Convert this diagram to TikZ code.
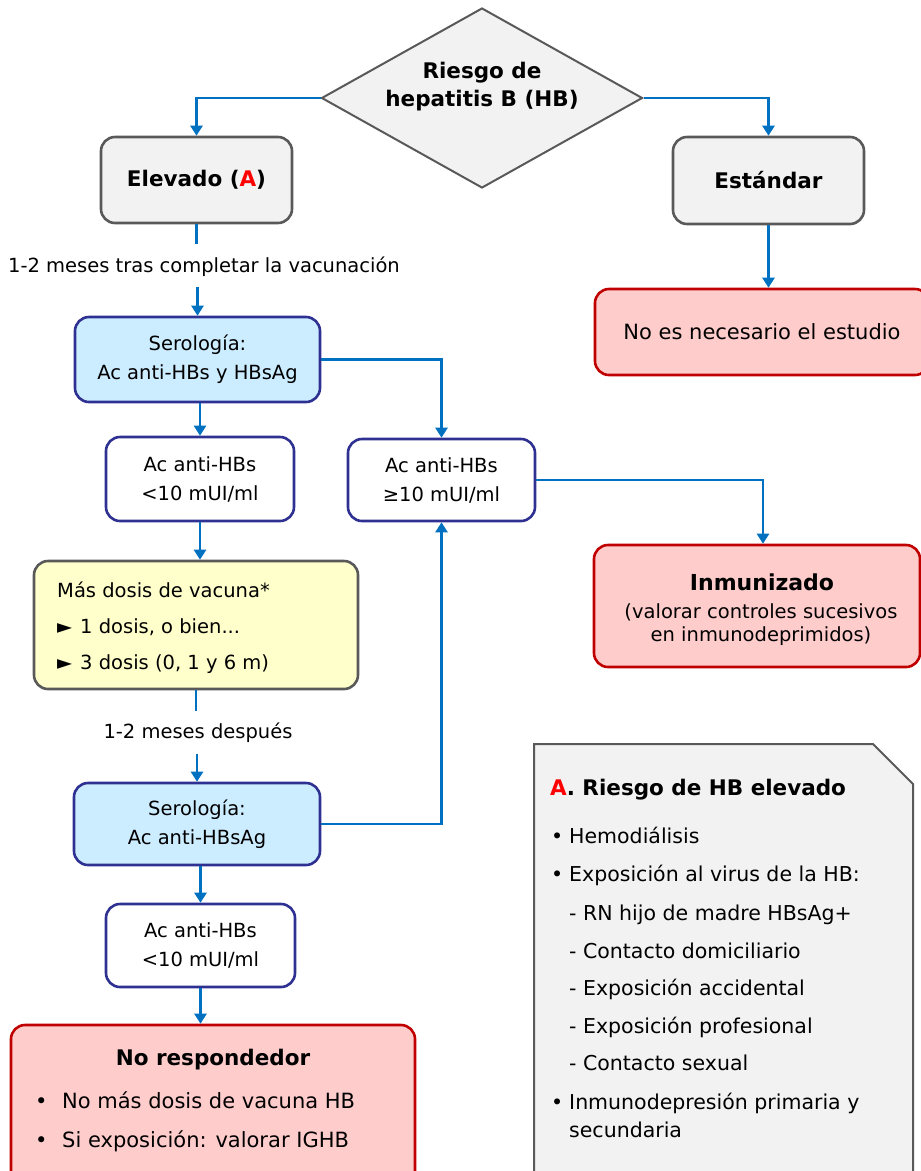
\documentclass[tikz,border=0pt]{standalone}
\usepackage{fontspec}
\setmainfont{DejaVu Sans}
\usetikzlibrary{arrows.meta,shapes.geometric}
\definecolor{connblue}{HTML}{0070C0}
\definecolor{grayfill}{HTML}{F2F2F2}
\definecolor{grayline}{HTML}{595959}
\definecolor{navyline}{HTML}{2E3192}
\definecolor{bluefill}{HTML}{CCECFF}
\definecolor{redline}{HTML}{C00000}
\definecolor{redfill}{HTML}{FFCCCC}
\definecolor{yellowfill}{HTML}{FFFFCC}
\definecolor{redA}{HTML}{FF0000}
\newcommand{\myfs}[2]{\fontsize{#1}{#2}\selectfont}
\begin{document}
\begin{tikzpicture}[x=1pt,y=-1pt,
  box/.style={rounded corners=14pt, line width=2.6pt, inner sep=0pt, align=center, font=\myfs{19.5}{29}},
  graybox/.style={box, draw=grayline, fill=grayfill, font=\bfseries\myfs{21.5}{26}},
  bluebox/.style={box, draw=navyline, fill=bluefill},
  whitebox/.style={box, draw=navyline, fill=white},
  redbox/.style={box, draw=redline, fill=redfill},
  yellowbox/.style={box, draw=grayline, fill=yellowfill},
  txt/.style={inner sep=0pt, align=center, font=\myfs{19.5}{24}},
  btxt/.style={inner sep=0pt, align=center, font=\bfseries\myfs{21.5}{28}},
  legl/.style={anchor=base west, inner sep=0pt, font=\myfs{20.5}{24}},
  conn/.style={draw=connblue, line width=2.8pt, -{Triangle[width=12pt,length=10pt]}},
  plain/.style={draw=connblue, line width=2.8pt}
]
\path[use as bounding box] (0,0) rectangle (921,1171);
\clip (0,0) rectangle (921,1171);

% decision
\node[diamond, draw=grayline, fill=grayfill, line width=2pt, minimum width=321, minimum height=180, inner sep=0pt] (risk) at (482,98) {};
\node[btxt] (risktxt) at (482,87) {Riesgo de\\hepatitis B (HB)};

\node[graybox, minimum width=191, minimum height=86] (elev) at (196.5,180) {Elevado (\textcolor{redA}{A})};
\node[graybox, minimum width=191, minimum height=87] (std) at (768.5,180.5) {Estándar};
\node[redbox, font=\myfs{21}{26}, minimum width=334, minimum height=86] (nne) at (762,332) {No es necesario el estudio};

\node[txt] (lbl1) at (204,267) {1-2 meses tras completar la vacunación};
\node[bluebox, minimum width=245, minimum height=85] (sero1) at (197.5,359.5) {Serología:\\Ac anti-HBs y HBsAg};
\node[whitebox, minimum width=188, minimum height=84] (lt1) at (200,479) {Ac anti-HBs\\<10 mUI/ml};
\node[whitebox, minimum width=187, minimum height=82] (ge) at (441.5,480) {Ac anti-HBs\\≥10 mUI/ml};

\node[redbox, minimum width=326, minimum height=122] (inm) at (757,606) {};
\node[btxt, font=\bfseries\myfs{22}{26}] (inmT) at (762,582) {Inmunizado};
\node[txt] (inmL1) at (761,612) {(valorar controles sucesivos};
\node[txt] (inmL2) at (761,636) {en inmunodeprimidos)};

\node[yellowbox, minimum width=324, minimum height=128] (mas) at (196,625) {};
\node[anchor=west, inner sep=0pt, align=left, font=\myfs{19.5}{36}] (masT) at (57,628)
  {Más dosis de vacuna*\\►\hspace{8pt}1 dosis, o bien...\\►\hspace{8pt}3 dosis (0, 1 y 6 m)};

\node[txt] (lbl2) at (198,733) {1-2 meses después};
\node[bluebox, minimum width=246, minimum height=82] (sero2) at (197,824) {Serología:\\Ac anti-HBsAg};
\node[whitebox, minimum width=189, minimum height=83] (lt2) at (200.5,945.5) {Ac anti-HBs\\<10 mUI/ml};

\node[redbox, minimum width=404, minimum height=170] (nr) at (213,1110) {};
\node[btxt] (nrT) at (213,1060) {No respondedor};
\node[legl, font=\myfs{21}{24}] (nrB1) at (35,1108) {\makebox[27pt][l]{•}No más dosis de vacuna HB};
\node[legl, font=\myfs{21}{24}] (nrB2) at (35,1147) {\makebox[27pt][l]{•}Si exposición: valorar IGHB};

% legend
\draw[fill=grayfill, draw=grayline, line width=2pt] (534,744) -- (873,744) -- (913,784) -- (913,1190) -- (534,1190) -- cycle;
\node[legl, font=\bfseries\myfs{21.5}{26}] (leg0) at (550,795) {\textcolor{redA}{A}. Riesgo de HB elevado};
\node[legl] (leg1) at (551,843) {\makebox[18pt][l]{•}Hemodiálisis};
\node[legl] (leg2) at (551,881) {\makebox[18pt][l]{•}Exposición al virus de la HB:};
\node[legl] (leg3) at (569,920) {- RN hijo de madre HBsAg+};
\node[legl] (leg4) at (569,958) {- Contacto domiciliario};
\node[legl] (leg5) at (569,995) {- Exposición accidental};
\node[legl] (leg6) at (569,1033) {- Exposición profesional};
\node[legl] (leg7) at (569,1070) {- Contacto sexual};
\node[legl] (leg8) at (551,1109) {\makebox[18pt][l]{•}Inmunodepresión primaria y};
\node[legl] (leg9) at (569,1137) {secundaria};

% free ends of the label-interrupted connectors
\coordinate (e1) at ([yshift=-20pt]elev.south);
\coordinate (e2) at ([yshift=29pt]sero1.north);
\coordinate (m1) at ([yshift=-21pt]mas.south);
\coordinate (m2) at ([yshift=28pt]sero2.north);

% connectors
\draw[conn] (risk.west) -| (elev.north);
\draw[conn] (risk.east) -| (std.north);
\draw[conn] (std.south) -- (std.south |- nne.north);
\draw[plain] (elev.south) -- (e1);
\draw[conn] (e2) -- (sero1.north);
\draw[conn] (sero1.south -| lt1.north) -- (lt1.north);
\draw[conn] (sero1.east) -| (ge.north);
\draw[conn] (ge.east) -| ([xshift=6pt]inm.north);
\draw[conn] (lt1.south) -- (lt1.south |- mas.north);
\draw[plain] (mas.south) -- (m1);
\draw[conn] (m2) -- (sero2.north);
\draw[conn] (sero2.east) -| (ge.south);
\draw[conn] (sero2.south -| lt2.north) -- (lt2.north);
\draw[conn] (lt2.south) -- (lt2.south |- nr.north);
\end{tikzpicture}
\end{document}
